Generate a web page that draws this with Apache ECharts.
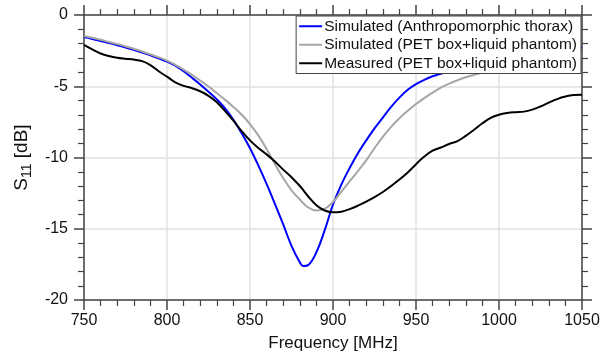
<!DOCTYPE html>
<html>
<head>
<meta charset="utf-8">
<script src="https://cdn.jsdelivr.net/npm/echarts@6/dist/echarts.min.js"></script>
<style>
  html, body { margin: 0; padding: 0; background: #fff; }
  #main { width: 616px; height: 361px; }
</style>
</head>
<body>
<div id="main"></div>
<script>
// frequency points (MHz), shared by the three curves
var freq = [750, 755, 760, 765, 770, 775, 780, 785, 790, 795,
            800, 805, 810, 815, 820, 825, 830, 835, 840, 845,
            850, 855, 860, 865, 870, 875, 880, 882, 885, 890,
            895, 900, 905, 910, 915, 920, 925, 930, 935, 940,
            945, 950, 955, 960, 965, 970, 975, 980, 985, 990,
            995, 1000, 1005, 1010, 1015, 1020, 1025, 1030, 1035, 1040,
            1045, 1050];

// S11 in dB
var simThorax = [-1.55, -1.68, -1.82, -1.97, -2.12, -2.28, -2.45, -2.63, -2.83, -3.04,
                 -3.27, -3.55, -3.95, -4.4, -4.87, -5.38, -5.92, -6.55, -7.35, -8.3,
                 -9.35, -10.55, -11.85, -13.25, -14.7, -16.2, -17.35, -17.62, -17.55, -16.65,
                 -15.1, -13.3, -11.9, -10.75, -9.7, -8.8, -7.95, -7.2, -6.45, -5.8,
                 -5.25, -4.85, -4.55, -4.3, -4.12, -3.95, -3.78, -3.62, -3.47, -3.33,
                 -3.2, -3.08, -2.97, -2.87, -2.77, -2.68, -2.6, -2.52, -2.45, -2.38,
                 -2.32, -2.26];

var simPet = [-1.47, -1.6, -1.74, -1.89, -2.04, -2.2, -2.37, -2.56, -2.76, -2.97,
              -3.2, -3.5, -3.83, -4.2, -4.6, -5.02, -5.48, -5.95, -6.45, -7.0,
              -7.65, -8.45, -9.4, -10.45, -11.45, -12.3, -12.95, -13.2, -13.5, -13.72,
              -13.6, -13.12, -12.4, -11.68, -10.95, -10.2, -9.35, -8.55, -7.85, -7.25,
              -6.72, -6.25, -5.83, -5.45, -5.1, -4.82, -4.58, -4.37, -4.2, -4.05,
              -3.92, -3.8, -3.69, -3.58, -3.48, -3.38, -3.28, -3.19, -3.1, -3.01,
              -2.93, -2.85];

var measPet = [-2.1, -2.42, -2.7, -2.88, -3.0, -3.07, -3.13, -3.24, -3.52, -3.95,
               -4.33, -4.72, -4.97, -5.13, -5.35, -5.67, -6.12, -6.75, -7.42, -8.15,
               -8.8, -9.33, -9.78, -10.28, -10.85, -11.38, -12.0, -12.28, -12.72, -13.35,
               -13.72, -13.85, -13.8, -13.62, -13.38, -13.1, -12.78, -12.42, -12.0, -11.55,
               -11.05, -10.47, -9.93, -9.52, -9.3, -9.05, -8.85, -8.48, -8.05, -7.6,
               -7.22, -7.0, -6.88, -6.82, -6.78, -6.64, -6.42, -6.15, -5.9, -5.72,
               -5.62, -5.6];

var names = ['Simulated (Anthropomorphic thorax)', 'Simulated (PET box+liquid phantom)', 'Measured (PET box+liquid phantom)'];
var colors = ['#0000ff', '#a6a6a6', '#000000'];

var font = 'Liberation Sans, Arial, sans-serif';
var axisColor = '#444';

function pairs(ys) {
  return freq.map(function (f, i) { return [f, ys[i]]; });
}

function axisBase(showLabel) {
  return {
    axisLine: { show: true, onZero: false, lineStyle: { color: axisColor, width: 1.5 } },
    axisTick: { show: true, inside: false, length: 10, lineStyle: { color: axisColor, width: 1.5 } },
    minorTick: { show: true, splitNumber: 5, length: 6, lineStyle: { color: axisColor, width: 1.2 } },
    splitLine: { show: showLabel, lineStyle: { color: '#e2e2e2', width: 1.5 } },
    axisLabel: {
      show: showLabel, fontSize: 16, color: '#111', fontFamily: font,
      formatter: function (v) { return String(v); }
    }
  };
}

var myChart = echarts.init(document.getElementById('main'));

var xBottom = Object.assign(axisBase(true), {
  type: 'value', position: 'bottom', min: 750, max: 1050, interval: 50,
  name: 'Frequency [MHz]', nameLocation: 'middle', nameGap: 35,
  nameTextStyle: { fontSize: 17, color: '#111', fontFamily: font }
});
xBottom.axisLabel.margin = 13;

var xTop = Object.assign(axisBase(false), {
  type: 'value', position: 'top', min: 750, max: 1050, interval: 50
});

var yLeft = Object.assign(axisBase(true), {
  type: 'value', position: 'left', min: -20, max: 0, interval: 5,
  name: '{s|S}{sub|11}{s| [dB]}', nameLocation: 'middle', nameGap: 43, nameRotate: 90,
  nameTextStyle: {
    fontFamily: font, color: '#111',
    rich: {
      s: { fontSize: 19, lineHeight: 24, fontFamily: font, color: '#111' },
      sub: { fontSize: 14, lineHeight: 13, verticalAlign: 'bottom', fontFamily: font, color: '#111' }
    }
  }
});
yLeft.axisLabel.margin = 16;

var yRight = Object.assign(axisBase(false), {
  type: 'value', position: 'right', min: -20, max: 0, interval: 5
});

var option = {
  animation: false,
  backgroundColor: '#fff',
  grid: { left: 84, right: 34, top: 15, bottom: 61 },
  legend: {
    orient: 'vertical',
    right: 35,
    top: 16,
    z: 10,
    backgroundColor: '#fff',
    borderColor: '#444',
    borderWidth: 1,
    borderRadius: 0,
    padding: [1, 4, 1, 3],
    itemGap: 0,
    itemWidth: 23,
    itemHeight: 2,
    icon: 'rect',
    textStyle: { fontSize: 15.5, lineHeight: 18.5, color: '#111', fontFamily: font, padding: [0, 0, 0, -3] },
    data: names
  },
  xAxis: [xBottom, xTop],
  yAxis: [yLeft, yRight],
  series: [0, 1, 2].map(function (k) {
    var ys = [simThorax, simPet, measPet][k];
    return {
      name: names[k],
      type: 'line',
      xAxisIndex: 0,
      yAxisIndex: 0,
      smooth: 0.4,
      showSymbol: false,
      symbol: 'none',
      lineStyle: { color: colors[k], width: 2 },
      itemStyle: { color: colors[k] },
      z: 2 + k,
      data: pairs(ys)
    };
  })
};

myChart.setOption(option);
</script>
</body>
</html>
